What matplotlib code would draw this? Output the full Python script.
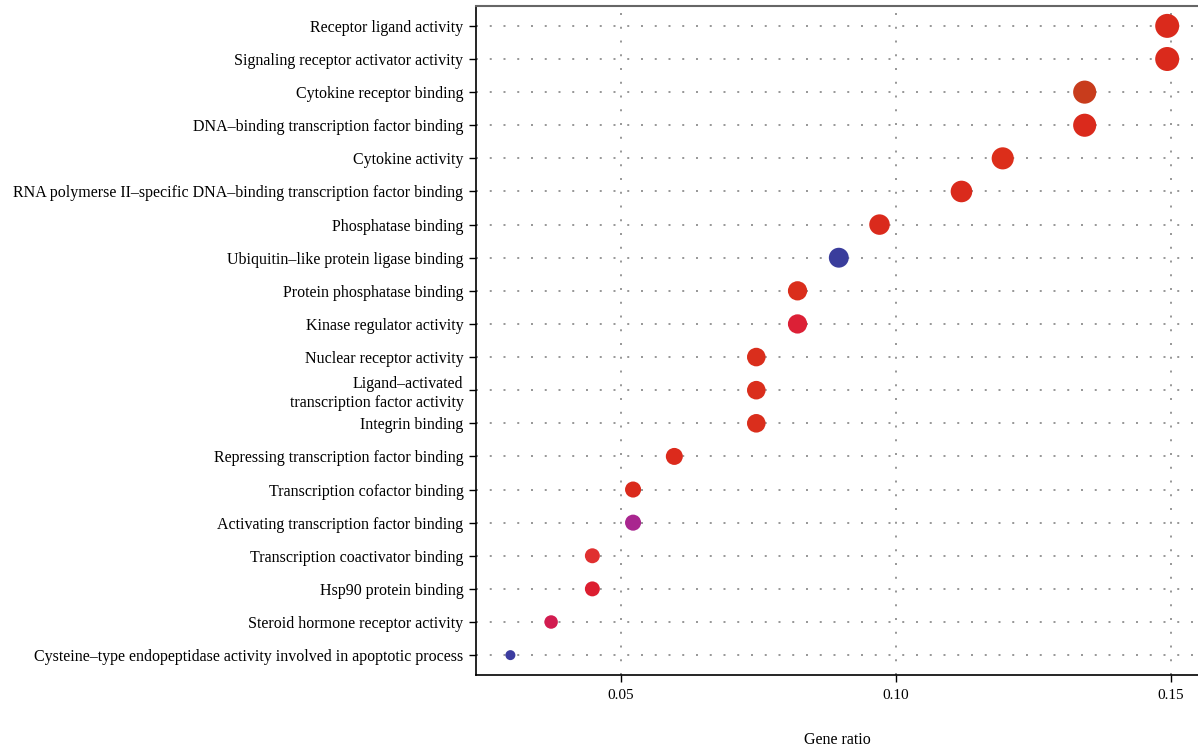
import numpy as np
import matplotlib
matplotlib.use("Agg")
import matplotlib.pyplot as plt

# GO terms, top to bottom
terms = [
    "Receptor ligand activity",
    "Signaling receptor activator activity",
    "Cytokine receptor binding",
    "DNA–binding transcription factor binding",
    "Cytokine activity",
    "RNA polymerse II–specific DNA–binding transcription factor binding",
    "Phosphatase binding",
    "Ubiquitin–like protein ligase binding",
    "Protein phosphatase binding",
    "Kinase regulator activity",
    "Nuclear receptor activity",
    "Ligand–activated\ntranscription factor activity",
    "Integrin binding",
    "Repressing transcription factor binding",
    "Transcription cofactor binding",
    "Activating transcription factor binding",
    "Transcription coactivator binding",
    "Hsp90 protein binding",
    "Steroid hormone receptor activity",
    "Cysteine–type endopeptidase activity involved in apoptotic process",
]
gene_ratio = [0.1493, 0.1493, 0.1343, 0.1343, 0.1194, 0.1119, 0.0970, 0.0896,
              0.0821, 0.0821, 0.0746, 0.0746, 0.0746, 0.0597, 0.0522, 0.0522,
              0.0448, 0.0448, 0.0373, 0.0299]
counts = [20, 20, 18, 18, 16, 15, 13, 12, 11, 11, 10, 10, 10, 8, 7, 7, 6, 6, 5, 4]
colors = ["#DA2A1C", "#DA2A1C", "#C83C1C", "#DA2A1C", "#DC2E1A", "#DA2A1C",
          "#DA2A1C", "#3A3D9C", "#DA2E1C", "#DC2036", "#DA2E1C", "#DA2E1C",
          "#DA2E1C", "#DC2A1C", "#DA2A1C", "#A9268F", "#E03030", "#DC1E30",
          "#D21C50", "#3C3CA0"]

plt.rcParams["font.family"] = ["Liberation Serif", "DejaVu Serif"]

fig = plt.figure(figsize=(11.98, 7.52), dpi=100)
ax = fig.add_axes([0.3973, 0.1024, 0.6027, 0.8896])

# size scale like ggplot's area scale: diameter ~ sqrt(rescaled count)
c = np.array(counts, dtype=float)
frac = np.sqrt((c - c.min()) / (c.max() - c.min()))
diam_px = 10 + frac * 14
sizes = (diam_px * 0.72) ** 2

y = np.arange(len(terms), 0, -1)
ax.scatter(gene_ratio, y, s=sizes, c=colors, zorder=3, linewidths=0)

ax.set_xlim(0.02364, 0.1549)
ax.set_ylim(0.4, len(terms) + 0.6)
ax.set_yticks(y)
ax.set_yticklabels(terms, fontsize=11.5, linespacing=1.25)
ax.set_xticks([0.05, 0.10, 0.15])
ax.set_xticklabels(["0.05", "0.10", "0.15"], fontsize=11)
ax.set_xlabel("Gene ratio", fontsize=11.5, labelpad=22)

ax.grid(True, color="#7a7a7a", linestyle=(0, (1.3, 7.7)), linewidth=1.1, zorder=0)
ax.set_axisbelow(True)

ax.spines["right"].set_visible(False)
ax.spines["top"].set_color("#666666")
ax.spines["top"].set_linewidth(1.5)
ax.spines["left"].set_linewidth(1.2)
ax.spines["bottom"].set_linewidth(1.2)
ax.tick_params(axis="both", direction="out", length=5, width=1.0, color="black")
ax.tick_params(axis="y", pad=4)
ax.tick_params(axis="x", pad=5)

fig.savefig("out.png", dpi=100)
